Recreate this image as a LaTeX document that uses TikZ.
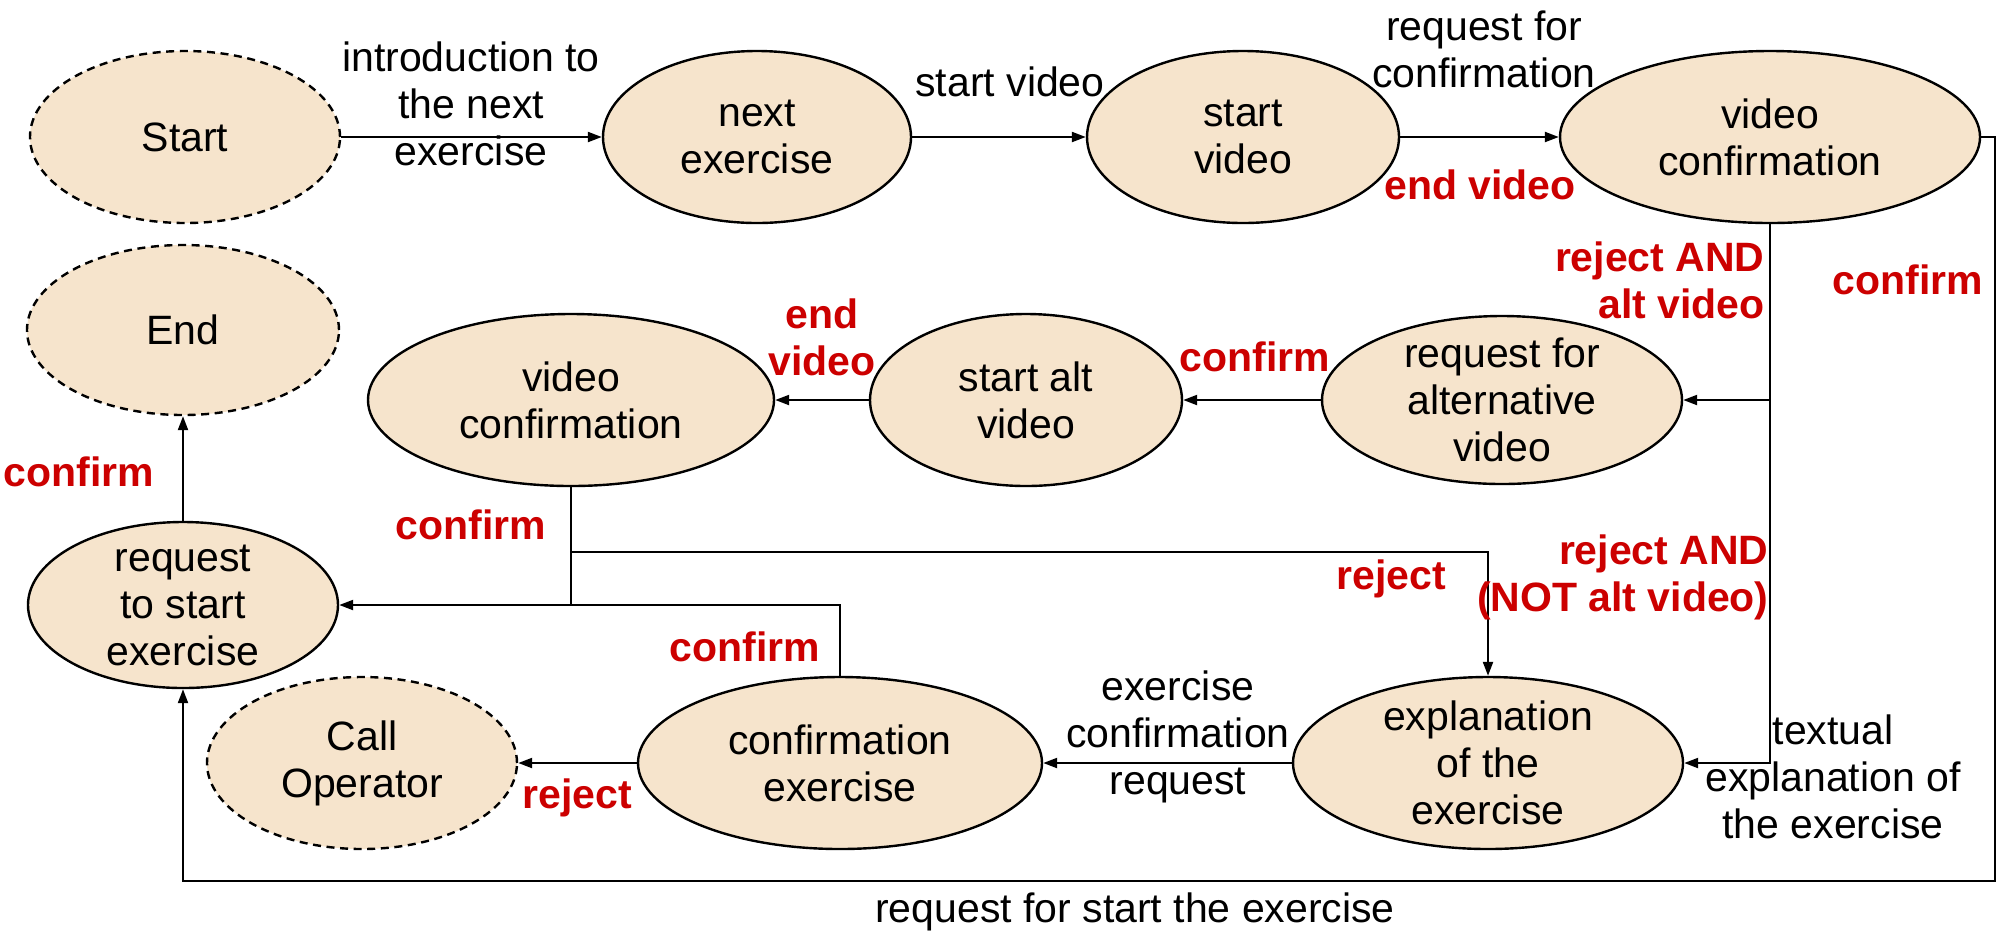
\documentclass[tikz,border=0pt]{standalone}
\usepackage{fontspec}
\setmainfont{Liberation Sans}
\usetikzlibrary{shapes.geometric,arrows.meta}
\definecolor{nodefill}{RGB}{246,228,204}
\definecolor{lblred}{RGB}{204,0,0}
\newcommand\dgfont{\fontsize{20.5}{23.5}\selectfont}
\begin{document}
\begin{tikzpicture}[x=0.5pt,y=-0.5pt,
  state/.style={ellipse, draw, line width=1.2pt, fill=nodefill, inner sep=-20pt, align=center, font=\dgfont},
  term/.style={state, dash pattern=on 4pt off 2.8pt},
  arr/.style={line width=1.1pt, -{Triangle[length=7pt,width=5pt]}},
  plain/.style={line width=1.1pt},
  lbl/.style={inner sep=0pt, align=center, font=\dgfont},
  redlbl/.style={lbl, text=lblred, font=\dgfont\bfseries}]
\useasboundingbox (0,0) rectangle (2000,939);
% states
\node[term, minimum width=155pt, minimum height=86pt] (start) at (185,137) {Start};
\node[state, minimum width=154pt, minimum height=86pt] (next) at (757,137) {next\\exercise};
\node[state, minimum width=156pt, minimum height=86pt] (startvid) at (1243,137) {start\\video};
\node[state, minimum width=210pt, minimum height=86pt] (vconf1) at (1770,137) {video\\confirmation};
\node[term, minimum width=156pt, minimum height=85pt] (end) at (183,330) {End};
\node[state, minimum width=203pt, minimum height=86pt] (vconf2) at (571,400) {video\\confirmation};
\node[state, minimum width=156pt, minimum height=86pt] (startalt) at (1026,400) {start alt\\video};
\node[state, minimum width=180pt, minimum height=84pt] (reqalt) at (1502,400) {request for\\alternative\\video};
\node[state, minimum width=155pt, minimum height=83pt] (reqstart) at (183,605) {request\\to start\\exercise};
\node[term, minimum width=155pt, minimum height=86pt] (callop) at (362,763) {Call\\Operator};
\node[state, minimum width=202pt, minimum height=86pt] (confex) at (840,763) {confirmation\\exercise};
\node[state, minimum width=195pt, minimum height=86pt] (expl) at (1488,763) {explanation\\of the\\exercise};
% connectors
\coordinate (br) at (1995,881);
\path (vconf2.south) ++(0,65) coordinate (rj);
\draw[arr] (start) -- (next);
\draw[arr] (next) -- (startvid);
\draw[arr] (startvid) -- (vconf1);
\draw[arr] (vconf1.east) -| (br) -| (reqstart.south);
\draw[arr] (vconf1.south) |- (expl.east);
\draw[arr] (vconf1.south |- reqalt.east) -- (reqalt.east);
\draw[arr] (reqalt) -- (startalt);
\draw[arr] (startalt) -- (vconf2);
\draw[arr] (vconf2.south) |- (reqstart.east);
\draw[arr] (rj) -| (expl.north);
\draw[plain] (confex.north) |- (vconf2.south |- reqstart.east);
\draw[arr] (confex) -- (callop);
\draw[arr] (expl) -- (confex);
\draw[arr] (reqstart) -- (end);
% labels
\node[lbl] (l1) at (471,104) {introduction to\\the next\\exercise};
\node[lbl] (l2) at (1010,82) {start video};
\node[lbl] (l3) at (1484,49) {request for\\confirmation};
\node[redlbl] (l4) at (1480,185) {end video};
\node[redlbl] (l5) at (1908,280) {confirm};
\node[redlbl, anchor=east, align=right] (l6) at (1765,280) {reject AND\\alt video};
\node[redlbl] (l7) at (1255,357) {confirm};
\node[redlbl] (l8) at (822,337) {end\\video};
\node[redlbl] (l9) at (79,472) {confirm};
\node[redlbl] (l10) at (471,525) {confirm};
\node[redlbl] (l11) at (1391,579) {reject};
\node[redlbl, anchor=east, align=right] (l12) at (1769,577) {reject AND\\(NOT alt video)};
\node[redlbl] (l13) at (745,647) {confirm};
\node[lbl] (l14) at (1178,737) {exercise\\confirmation\\request};
\node[redlbl] (l15) at (577,798) {reject};
\node[lbl] (l16) at (1833,777) {textual\\explanation of\\the exercise};
\node[lbl] (l17) at (1135,912) {request for start the exercise};
\end{tikzpicture}
\end{document}
